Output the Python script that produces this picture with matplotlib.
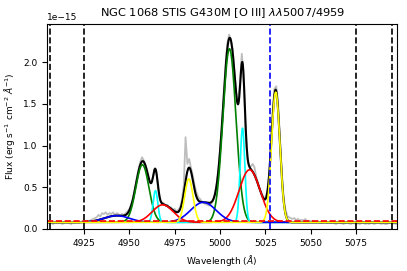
import numpy as np
import matplotlib
matplotlib.use('Agg')
import matplotlib.pyplot as plt

# observed spectrum, 1 A steps from 4905 to 5097  [1e-15 erg/s/cm2/A]
data_start = 4905
data_flux = [
    0.07, 0.08, 0.07, 0.06, 0.08, 0.07, 0.07, 0.08, 0.06, 0.07, 0.08, 0.07, 0.07, 0.06, 0.08, 0.07, 0.08, 0.07, 0.08, 0.09, 0.08,
    0.09, 0.10, 0.09, 0.11, 0.12, 0.13, 0.14, 0.17, 0.15, 0.19, 0.18, 0.20, 0.17, 0.19, 0.18, 0.20, 0.17, 0.19, 0.18, 0.16, 0.18, 0.17, 0.19, 0.21, 0.24,
    0.29, 0.35, 0.47, 0.60, 0.71, 0.80, 0.86, 0.82, 0.77, 0.69, 0.58, 0.56, 0.62, 0.73, 0.66, 0.46, 0.34, 0.32, 0.31, 0.28, 0.29, 0.25, 0.26, 0.23, 0.24,
    0.21, 0.23, 0.26, 0.35, 0.52, 1.10, 0.78, 0.84, 0.73, 0.64, 0.52, 0.44, 0.38, 0.36, 0.33, 0.31, 0.30, 0.29, 0.28, 0.30, 0.33, 0.40, 0.52, 0.70, 0.95,
    1.20, 1.62, 1.95, 2.22, 2.33, 2.25, 2.15, 1.88, 1.62, 1.55, 1.75, 2.10, 1.85, 1.20, 0.85, 0.76, 0.75, 0.78, 0.74, 0.62, 0.55, 0.47, 0.43, 0.38, 0.37,
    0.45, 0.66, 1.00, 1.40, 1.68, 1.71, 1.52, 1.12, 0.70, 0.40, 0.24, 0.16, 0.14, 0.13, 0.12, 0.13, 0.11, 0.12, 0.10, 0.11, 0.10, 0.12, 0.09, 0.10, 0.09,
    0.10, 0.09, 0.08, 0.09, 0.08, 0.07, 0.08, 0.09, 0.07, 0.08, 0.07, 0.08, 0.07, 0.06, 0.08, 0.07, 0.07, 0.06, 0.07, 0.08, 0.07, 0.06, 0.07, 0.07, 0.06,
    0.07, 0.06, 0.07, 0.08, 0.06, 0.07, 0.06, 0.07, 0.07, 0.06, 0.07, 0.08, 0.07, 0.06, 0.07, 0.06, 0.06, 0.07, 0.08, 0.06, 0.07, 0.06,
]

# fitted gaussian components: centres (4959, 5007), amplitudes, sigma
green_c = [4957.2, 5005.2]
green_a = [0.69, 2.08]
green_s = 3.6
cyan_c = [4964.4, 5012.4]
cyan_a = [0.38, 1.13]
cyan_s = 1.3
red_c = [4968.4, 5016.3]
red_a = [0.21, 0.63]
red_s = 5.8
yellow_c = [4982.8, 5030.7]
yellow_a = [0.52, 1.56]
yellow_s = 2.3
blue_c = [4943.0, 4990.8]
blue_a = [0.08, 0.24]
blue_s = 7.0
continuum = 0.08
cont_limit = 0.10

fit_windows = [4906, 4925, 5075, 5095]
line_mark = 5027.5

data_wave = data_start + np.arange(len(data_flux))
wave = np.linspace(4904.6, 5097.6, 800)


def gauss(c, a, s):
    return sum(ai * np.exp(-0.5 * ((wave - ci) / s) ** 2) for ci, ai in zip(c, a))


parts = [(green_c, green_a, green_s, 'green'),
         (cyan_c, cyan_a, cyan_s, 'cyan'),
         (red_c, red_a, red_s, 'red'),
         (blue_c, blue_a, blue_s, 'blue'),
         (yellow_c, yellow_a, yellow_s, 'yellow')]

model = continuum + sum(gauss(c, a, s) for c, a, s, _ in parts)

fig = plt.figure(figsize=(4.07, 2.71), dpi=100)
ax = fig.add_axes([0.1155, 0.155, 0.86, 0.756])

# data, total model, then each component on top
ax.plot(data_wave, np.array(data_flux) * 1e-15, color='0.74', lw=1.3)
ax.plot(wave, model * 1e-15, color='black', lw=1.5)
for c, a, s, col in parts:
    ax.plot(wave, (continuum + gauss(c, a, s)) * 1e-15, color=col, lw=1.2)
ax.axhline(cont_limit * 1e-15, color='red', ls='--', lw=1.2)
for w in fit_windows:
    ax.axvline(w, color='black', ls='--', lw=1.2)
ax.axvline(line_mark, color='blue', ls='--', lw=1.2)

ax.set_xlim(4904.6, 5097.6)
ax.set_ylim(0, 2.455e-15)
ax.set_xticks([4925, 4950, 4975, 5000, 5025, 5050, 5075])
ax.tick_params(labelsize=6.5)
ax.yaxis.get_offset_text().set_fontsize(6.5)
ax.set_xlabel(r'Wavelength ($\AA$)', fontsize=6.5)
ax.set_ylabel(r'Flux (erg s$^{-1}$ cm$^{-2}$ $\AA^{-1}$)', fontsize=6.5)
ax.set_title(r'NGC 1068 STIS G430M [O III] $\lambda\lambda$5007/4959', fontsize=8.2)

fig.savefig('out.png', dpi=100)
